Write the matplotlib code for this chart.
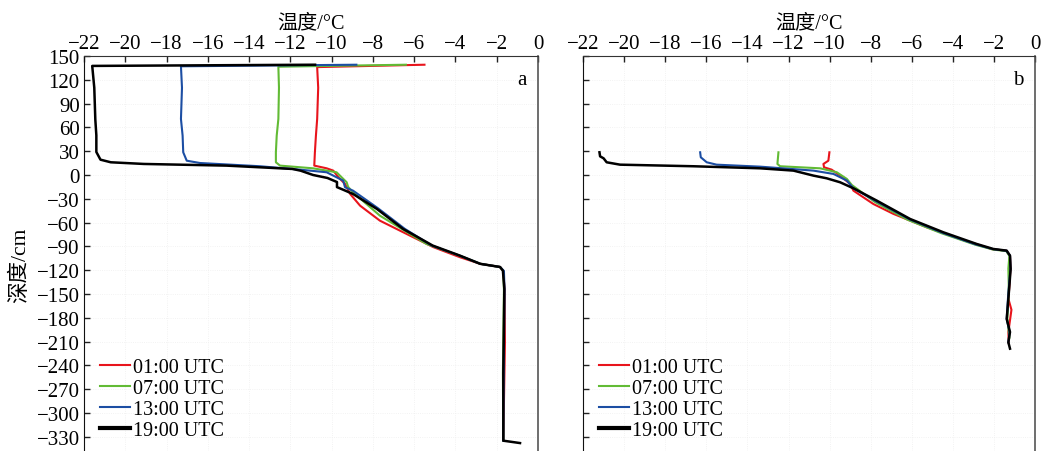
import matplotlib
matplotlib.use("Agg")
import matplotlib.pyplot as plt

plt.rcParams['font.family'] = ['Liberation Serif', 'Noto Sans CJK SC', 'DejaVu Sans']
plt.rcParams['axes.unicode_minus'] = True

# ---- data: temperature (°C) vs depth (cm) ----
labels = ["01:00 UTC", "07:00 UTC", "13:00 UTC", "19:00 UTC"]
colors = ["#e8141c", "#62bb35", "#1c4ea3", "#000000"]

# panel a
a_01_t = [-5.5, -10.7, -10.65, -10.7, -10.76, -10.81, -10.84, -10.24, -9.92, -9.67, -9.35, -9.1,
          -8.62, -7.66, -6.2, -5.07, -3.78, -2.8, -1.84, -1.68, -1.62, -1.6, -1.68]
a_01_d = [139, 136, 110, 70.6, 49.6, 28.6, 11.8, 8.4, 5.5, -2.9, -11.3, -24,
          -38.7, -57.6, -76.5, -91, -103.7, -112, -116, -121, -145, -210, -335]
a_07_t = [-6.4, -12.58, -12.55, -12.58, -12.66, -12.7, -12.7, -12.5, -10.9, -9.76, -9.27, -9.2,
          -8.96, -7.66, -5.4, -3.8, -2.8, -1.84, -1.68, -1.65, -1.7, -1.68]
a_07_d = [139, 136.5, 110, 70.6, 49.6, 28.6, 16, 11.8, 8.4, 3.4, -9.2, -15,
          -21.9, -51.3, -87, -101.7, -112, -116, -121, -145, -250, -335]
a_13_t = [-8.8, -17.3, -17.25, -17.3, -17.22, -17.19, -17.02, -16.38, -13.47, -11.53, -10.24, -9.44,
          -9.35, -8.96, -7.75, -6.45, -5.15, -3.8, -2.8, -1.84, -1.65, -1.62, -1.66, -1.68]
a_13_d = [139, 137, 110, 70.6, 49.6, 28.6, 18, 15.1, 11, 6.7, 3.4, -7.1,
          -15.5, -19.8, -42, -68, -89, -101.7, -112, -116, -121, -145, -250, -335]
a_19_t = [-10.8, -21.6, -21.5, -21.45, -21.4, -21.4, -21.2, -20.7, -19.1, -15.1, -11.9, -11.5,
          -10.9, -10.2, -9.74, -9.74, -9.45, -8.96, -7.8, -6.54, -5.1, -3.78, -2.8, -1.84,
          -1.7, -1.63, -1.68, -1.68, -0.87]
a_19_d = [139, 137.5, 110, 70, 50, 29, 19.3, 16, 13.9, 11.8, 7.6, 5.4,
          0, -3.8, -8.9, -15.3, -18.5, -24, -42.9, -68, -89, -101.7, -112, -116,
          -120.6, -143.7, -250, -335, -338]

# panel b
b_01_t = [-10.01, -10.06, -10.3, -10.27, -9.9, -9.49, -9.0, -8.84, -7.87, -6.9, -5.27, -3.65,
          -2.1, -1.4, -1.22, -1.2, -1.25, -1.3, -1.15, -1.3, -1.28]
b_01_d = [28.6, 18, 13.9, 9.7, 6.7, -0.8, -11.3, -19.8, -36.6, -49, -66, -80.7,
          -93.5, -95.5, -102, -118.5, -140, -156, -170, -198, -212]
b_07_t = [-12.49, -12.54, -12.41, -10.46, -9.65, -9.16, -8.92, -7.8, -6.2, -4.55, -2.9, -2.05,
          -1.4, -1.25, -1.3, -1.28, -1.3, -1.35, -1.25]
b_07_d = [28.6, 13.9, 11, 8.4, 3.4, -5, -12.6, -34, -56.5, -73.5, -88, -94,
          -96, -102, -118, -140, -156, -181, -205]
b_13_t = [-16.3, -16.27, -15.98, -15.5, -13.38, -10.79, -9.81, -9.16, -8.84, -7.75, -6.1, -4.5,
          -2.9, -2.05, -1.4, -1.22, -1.2, -1.27, -1.32, -1.38, -1.24, -1.3]
b_13_d = [28.6, 22.3, 16, 13, 10.5, 5.5, 1.3, -7.1, -16.8, -33, -56, -73,
          -87.5, -93.5, -95.5, -101.7, -118.5, -139.5, -156, -181.5, -198, -211]
b_19_t = [-21.2, -21.17, -21.0, -20.85, -20.2, -16.63, -13.38, -11.76, -10.79, -10.14, -9.49, -8.84,
          -7.7, -6.08, -4.46, -2.84, -2.03, -1.38, -1.22, -1.19, -1.25, -1.3, -1.38, -1.22, -1.3, -1.22]
b_19_d = [28.6, 23.5, 21, 16, 13, 11, 8.4, 5.5, -0.8, -4.2, -9.2, -16.8,
          -32.4, -55.5, -72.3, -87, -93.3, -95.4, -101.7, -118.5, -139.5, -156, -181.5, -198, -211, -219]

panels = {
    "a": [(a_01_t, a_01_d), (a_07_t, a_07_d), (a_13_t, a_13_d), (a_19_t, a_19_d)],
    "b": [(b_01_t, b_01_d), (b_07_t, b_07_d), (b_13_t, b_13_d), (b_19_t, b_19_d)],
}

xticks = list(range(-22, 1, 2))
yticks = list(range(150, -331, -30))

fig = plt.figure(figsize=(10.43, 4.52), dpi=100)
ax_a = fig.add_axes([0.0805, 0.0, 0.4353, 0.8739])
ax_b = fig.add_axes([0.559, 0.0, 0.4334, 0.8739])

for name, ax in [("a", ax_a), ("b", ax_b)]:
    for i, (t, d) in enumerate(panels[name]):
        lw = 1.8 if i == 3 else 1.5
        ax.plot(t, d, color=colors[i], lw=lw, label=labels[i])

    ax.set_xlim(-22, 0)
    ax.set_ylim(-348, 150)
    ax.set_xticks(xticks)
    ax.set_yticks(yticks)
    ax.xaxis.tick_top()
    ax.xaxis.set_label_position('top')
    ax.set_xlabel("温度/°C", fontsize=14.5, labelpad=5)
    ax.tick_params(axis='both', direction='in', length=4, width=1, labelsize=15,
                   color='#222222')
    ax.tick_params(axis='x', pad=2)
    ax.tick_params(axis='y', pad=3)
    ax.grid(True, color='#efefef', linestyle=':', lw=0.6)
    ax.spines['bottom'].set_visible(False)
    ax.spines['left'].set_color('#111111')
    ax.spines['top'].set_color('#333333')
    ax.spines['right'].set_color('#555555')
    ax.spines['right'].set_linewidth(1.2)
    ax.text(0.975, 0.94, name, transform=ax.transAxes, fontsize=15,
            ha='right', va='center')

    leg = ax.legend(loc='lower left', bbox_to_anchor=(0.0, -0.013), frameon=False,
                    fontsize=14.5, handlelength=1.5, handletextpad=0.15,
                    labelspacing=0.1, borderaxespad=0.4)
    leg.get_lines()[3].set_linewidth(3)

ax_a.set_yticklabels([f"{v}".replace("-", "\u2212") for v in yticks])
ax_a.set_ylabel("深度/cm", fontsize=15.5)
ax_a.yaxis.set_label_coords(-0.119, 0.473)
ax_b.set_yticklabels([])

fig.savefig("out.png", dpi=100)
